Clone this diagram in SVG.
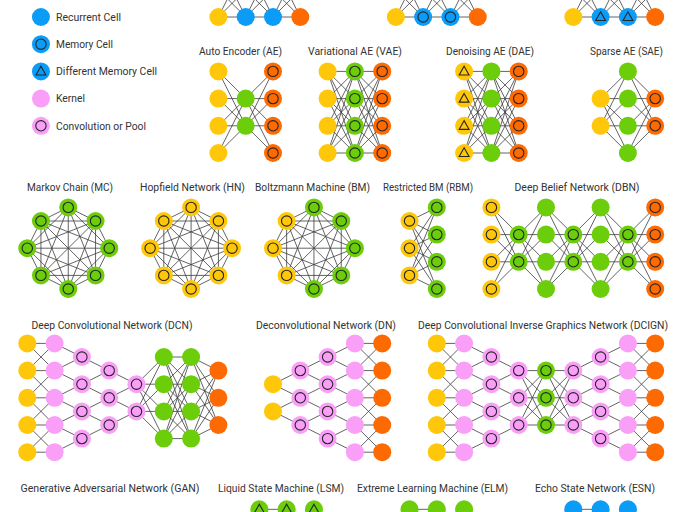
<svg xmlns="http://www.w3.org/2000/svg" xmlns:xlink="http://www.w3.org/1999/xlink" width="683" height="512" viewBox="0 0 683 512">
<style>
.e{fill:none;stroke:#3c3c3c;stroke-width:.8;vector-effect:non-scaling-stroke}
.in{fill:none;stroke:#262626;stroke-width:1.1;vector-effect:non-scaling-stroke}
.y{fill:#ffc70a}.b{fill:#0a9cf7}.g{fill:#6ccd0b}.o{fill:#fe6a02}.p{fill:#fa9ff8}
.t{font-family:Roboto,"Liberation Sans",sans-serif;font-size:10.5px;fill:#333}
.c{text-anchor:middle}
</style>
<defs>
<g id="Y"><circle class="y" r=".33"/></g>
<g id="YC"><circle class="y" r=".33"/><circle class="in" r=".19"/></g>
<g id="YT"><circle class="y" r=".33"/><path class="in" d="M0-.19L.18.13H-.18Z"/></g>
<g id="B"><circle class="b" r=".33"/></g>
<g id="BC"><circle class="b" r=".33"/><circle class="in" r=".19"/></g>
<g id="BT"><circle class="b" r=".33"/><path class="in" d="M0-.19L.18.13H-.18Z"/></g>
<g id="G"><circle class="g" r=".33"/></g>
<g id="GC"><circle class="g" r=".33"/><circle class="in" r=".19"/></g>
<g id="GT"><circle class="g" r=".33"/><path class="in" d="M0-.19L.18.13H-.18Z"/></g>
<g id="O"><circle class="o" r=".33"/></g>
<g id="OC"><circle class="o" r=".33"/><circle class="in" r=".19"/></g>
<g id="P"><circle class="p" r=".33"/></g>
<g id="PC"><circle class="p" r=".33"/><circle class="in" r=".19"/></g>
<path id="f44" class="e" d="M0 0L1 0M0 0L1 1M0 0L1 2M0 0L1 3M0 1L1 0M0 1L1 1M0 1L1 2M0 1L1 3M0 2L1 0M0 2L1 1M0 2L1 2M0 2L1 3M0 3L1 0M0 3L1 1M0 3L1 2M0 3L1 3"/>
<path id="f42" class="e" d="M0 0L1 1M0 0L1 2M0 1L1 1M0 1L1 2M0 2L1 1M0 2L1 2M0 3L1 1M0 3L1 2"/>
<path id="f24" class="e" d="M0 1L1 0M0 1L1 1M0 1L1 2M0 1L1 3M0 2L1 0M0 2L1 1M0 2L1 2M0 2L1 3"/>
<path id="f33" class="e" d="M0 0L1 0M0 0L1 1M0 0L1 2M0 1L1 0M0 1L1 1M0 1L1 2M0 2L1 0M0 2L1 1M0 2L1 2"/>
<path id="f43" class="e" d="M0 0L1 .5M0 0L1 1.5M0 0L1 2.5M0 1L1 .5M0 1L1 1.5M0 1L1 2.5M0 2L1 .5M0 2L1 1.5M0 2L1 2.5M0 3L1 .5M0 3L1 1.5M0 3L1 2.5"/>
<path id="f34" class="e" d="M0 .5L1 0M0 .5L1 1M0 .5L1 2M0 .5L1 3M0 1.5L1 0M0 1.5L1 1M0 1.5L1 2M0 1.5L1 3M0 2.5L1 0M0 2.5L1 1M0 2.5L1 2M0 2.5L1 3"/>
<path id="x5" class="e" d="M0 0H1M0 1H1M0 2H1M0 3H1M0 4H1M0 0L1 1M0 1L1 0M0 1L1 2M0 2L1 1M0 2L1 3M0 3L1 2M0 3L1 4M0 4L1 3"/>
<path id="up" class="e" d="M0 0H1M0 0L1-1M0 0L1-2M1 0L0-1M1 0L0-2"/>
<path id="k8" class="e" d="M0-1.5L1-1M0-1.5L1.5 0M0-1.5L1 1M0-1.5L0 1.5M0-1.5L-1 1M0-1.5L-1.5 0M0-1.5L-1-1M1-1L1.5 0M1-1L1 1M1-1L0 1.5M1-1L-1 1M1-1L-1.5 0M1-1L-1-1M1.5 0L1 1M1.5 0L0 1.5M1.5 0L-1 1M1.5 0L-1.5 0M1.5 0L-1-1M1 1L0 1.5M1 1L-1 1M1 1L-1.5 0M1 1L-1-1M0 1.5L-1 1M0 1.5L-1.5 0M0 1.5L-1-1M-1 1L-1.5 0M-1 1L-1-1M-1.5 0L-1-1"/>
</defs>

<g id="connectors" transform="translate(0,17) scale(27.3,27.2)">
<use href="#up" x="8" y="0"/><use href="#up" x="9" y="0"/><use href="#up" x="10" y="0"/>
<use href="#up" x="14.5" y="0"/><use href="#up" x="15.5" y="0"/><use href="#up" x="16.5" y="0"/>
<use href="#up" x="21" y="0"/><use href="#up" x="22" y="0"/><use href="#up" x="23" y="0"/>
<use href="#f42" x="8" y="2"/><use href="#f24" x="9" y="2"/>
<use href="#f44" x="12" y="2"/><use href="#f44" x="13" y="2"/>
<use href="#f44" x="17" y="2"/><use href="#f44" x="18" y="2"/>
<use href="#f24" x="22" y="2"/><use href="#f42" x="23" y="2"/>
<use href="#k8" x="2.5" y="8.5"/><use href="#k8" x="7" y="8.5"/><use href="#k8" x="11.5" y="8.5"/>
<use href="#f34" x="15" y="7"/>
<use href="#f42" x="18" y="7"/><use href="#f24" x="19" y="7"/><use href="#f42" x="20" y="7"/><use href="#f24" x="21" y="7"/><use href="#f42" x="22" y="7"/><use href="#f24" x="23" y="7"/>
<use href="#x5" x="1" y="12"/>
<path class="e" d="M2 12L3 12.5L2 13L3 13.5L2 14L3 14.5L2 15L3 15.5L2 16M3 12.5L4 13L3 13.5L4 14L3 14.5L4 15L3 15.5M4 13L5 13.5L4 14L5 14.5L4 15"/>
<use href="#f24" x="5" y="12.5"/><use href="#f44" x="6" y="12.5"/><use href="#f43" x="7" y="12.5"/>
<path class="e" d="M11 13L10 13.5L11 14L10 14.5L11 15M12 12.5L11 13L12 13.5L11 14L12 14.5L11 15L12 15.5M13 12L12 12.5L13 13L12 13.5L13 14L12 14.5L13 15L12 15.5L13 16"/>
<use href="#x5" x="13" y="12"/>
<use href="#x5" x="16" y="12"/>
<path class="e" d="M17 12L18 12.5L17 13L18 13.5L17 14L18 14.5L17 15L18 15.5L17 16M18 12.5L19 13L18 13.5L19 14L18 14.5L19 15L18 15.5"/>
<use href="#f33" x="19" y="13"/><use href="#f33" x="20" y="13"/>
<path class="e" d="M22 12.5L21 13L22 13.5L21 14L22 14.5L21 15L22 15.5M23 12L22 12.5L23 13L22 13.5L23 14L22 14.5L23 15L22 15.5L23 16"/>
<use href="#x5" x="23" y="12"/>
<path class="e" d="M9.5 18.1H10.5M15 18.1H16M21 18.1H22"/>
</g>

<g transform="translate(0,17) scale(27.3,27.2)">
<g id="legend">
<use href="#B" x="1.5" y="0"/><use href="#BC" x="1.5" y="1"/><use href="#BT" x="1.5" y="2"/><use href="#P" x="1.5" y="3"/><use href="#PC" x="1.5" y="4"/>
</g>
<g id="rnn">
<use href="#Y" x="8" y="0"/><use href="#B" x="9" y="0"/><use href="#B" x="10" y="0"/><use href="#O" x="11" y="0"/>
</g>
<g id="lstm">
<use href="#Y" x="14.5" y="0"/><use href="#BC" x="15.5" y="0"/><use href="#BC" x="16.5" y="0"/><use href="#O" x="17.5" y="0"/>
</g>
<g id="gru">
<use href="#Y" x="21" y="0"/><use href="#BT" x="22" y="0"/><use href="#BT" x="23" y="0"/><use href="#O" x="24" y="0"/>
</g>
<g id="ae">
<use href="#Y" x="8" y="2"/><use href="#Y" x="8" y="3"/><use href="#Y" x="8" y="4"/><use href="#Y" x="8" y="5"/>
<use href="#G" x="9" y="3"/><use href="#G" x="9" y="4"/>
<use href="#OC" x="10" y="2"/><use href="#OC" x="10" y="3"/><use href="#OC" x="10" y="4"/><use href="#OC" x="10" y="5"/>
</g>
<g id="vae">
<use href="#Y" x="12" y="2"/><use href="#Y" x="12" y="3"/><use href="#Y" x="12" y="4"/><use href="#Y" x="12" y="5"/>
<use href="#GC" x="13" y="2"/><use href="#GC" x="13" y="3"/><use href="#GC" x="13" y="4"/><use href="#GC" x="13" y="5"/>
<use href="#OC" x="14" y="2"/><use href="#OC" x="14" y="3"/><use href="#OC" x="14" y="4"/><use href="#OC" x="14" y="5"/>
</g>
<g id="dae">
<use href="#YT" x="17" y="2"/><use href="#YT" x="17" y="3"/><use href="#YT" x="17" y="4"/><use href="#YT" x="17" y="5"/>
<use href="#G" x="18" y="2"/><use href="#G" x="18" y="3"/><use href="#G" x="18" y="4"/><use href="#G" x="18" y="5"/>
<use href="#OC" x="19" y="2"/><use href="#OC" x="19" y="3"/><use href="#OC" x="19" y="4"/><use href="#OC" x="19" y="5"/>
</g>
<g id="sae">
<use href="#Y" x="22" y="3"/><use href="#Y" x="22" y="4"/>
<use href="#G" x="23" y="2"/><use href="#G" x="23" y="3"/><use href="#G" x="23" y="4"/><use href="#G" x="23" y="5"/>
<use href="#OC" x="24" y="3"/><use href="#OC" x="24" y="4"/>
</g>
<g id="mc">
<use href="#GC" x="2.5" y="7"/><use href="#GC" x="3.5" y="7.5"/><use href="#GC" x="4" y="8.5"/><use href="#GC" x="3.5" y="9.5"/><use href="#GC" x="2.5" y="10"/><use href="#GC" x="1.5" y="9.5"/><use href="#GC" x="1" y="8.5"/><use href="#GC" x="1.5" y="7.5"/>
</g>
<g id="hn">
<use href="#YC" x="7" y="7"/><use href="#YC" x="8" y="7.5"/><use href="#YC" x="8.5" y="8.5"/><use href="#YC" x="8" y="9.5"/><use href="#YC" x="7" y="10"/><use href="#YC" x="6" y="9.5"/><use href="#YC" x="5.5" y="8.5"/><use href="#YC" x="6" y="7.5"/>
</g>
<g id="bm">
<use href="#GC" x="11.5" y="7"/><use href="#GC" x="12.5" y="7.5"/><use href="#GC" x="13" y="8.5"/><use href="#GC" x="12.5" y="9.5"/><use href="#GC" x="11.5" y="10"/><use href="#YC" x="10.5" y="9.5"/><use href="#YC" x="10" y="8.5"/><use href="#YC" x="10.5" y="7.5"/>
</g>
<g id="rbm">
<use href="#YC" x="15" y="7.5"/><use href="#YC" x="15" y="8.5"/><use href="#YC" x="15" y="9.5"/>
<use href="#GC" x="16" y="7"/><use href="#GC" x="16" y="8"/><use href="#GC" x="16" y="9"/><use href="#GC" x="16" y="10"/>
</g>
<g id="dbn">
<use href="#YC" x="18" y="7"/><use href="#YC" x="18" y="8"/><use href="#YC" x="18" y="9"/><use href="#YC" x="18" y="10"/>
<use href="#GC" x="19" y="8"/><use href="#GC" x="19" y="9"/>
<use href="#G" x="20" y="7"/><use href="#G" x="20" y="8"/><use href="#G" x="20" y="9"/><use href="#G" x="20" y="10"/>
<use href="#GC" x="21" y="8"/><use href="#GC" x="21" y="9"/>
<use href="#G" x="22" y="7"/><use href="#G" x="22" y="8"/><use href="#G" x="22" y="9"/><use href="#G" x="22" y="10"/>
<use href="#GC" x="23" y="8"/><use href="#GC" x="23" y="9"/>
<use href="#OC" x="24" y="7"/><use href="#OC" x="24" y="8"/><use href="#OC" x="24" y="9"/><use href="#OC" x="24" y="10"/>
</g>
<g id="dcn">
<use href="#Y" x="1" y="12"/><use href="#Y" x="1" y="13"/><use href="#Y" x="1" y="14"/><use href="#Y" x="1" y="15"/><use href="#Y" x="1" y="16"/>
<use href="#P" x="2" y="12"/><use href="#P" x="2" y="13"/><use href="#P" x="2" y="14"/><use href="#P" x="2" y="15"/><use href="#P" x="2" y="16"/>
<use href="#PC" x="3" y="12.5"/><use href="#PC" x="3" y="13.5"/><use href="#PC" x="3" y="14.5"/><use href="#PC" x="3" y="15.5"/>
<use href="#PC" x="4" y="13"/><use href="#PC" x="4" y="14"/><use href="#PC" x="4" y="15"/>
<use href="#PC" x="5" y="13.5"/><use href="#PC" x="5" y="14.5"/>
<use href="#G" x="6" y="12.5"/><use href="#G" x="6" y="13.5"/><use href="#G" x="6" y="14.5"/><use href="#G" x="6" y="15.5"/>
<use href="#G" x="7" y="12.5"/><use href="#G" x="7" y="13.5"/><use href="#G" x="7" y="14.5"/><use href="#G" x="7" y="15.5"/>
<use href="#O" x="8" y="13"/><use href="#O" x="8" y="14"/><use href="#O" x="8" y="15"/>
</g>
<g id="dn">
<use href="#Y" x="10" y="13.5"/><use href="#Y" x="10" y="14.5"/>
<use href="#PC" x="11" y="13"/><use href="#PC" x="11" y="14"/><use href="#PC" x="11" y="15"/>
<use href="#PC" x="12" y="12.5"/><use href="#PC" x="12" y="13.5"/><use href="#PC" x="12" y="14.5"/><use href="#PC" x="12" y="15.5"/>
<use href="#P" x="13" y="12"/><use href="#P" x="13" y="13"/><use href="#P" x="13" y="14"/><use href="#P" x="13" y="15"/><use href="#P" x="13" y="16"/>
<use href="#O" x="14" y="12"/><use href="#O" x="14" y="13"/><use href="#O" x="14" y="14"/><use href="#O" x="14" y="15"/><use href="#O" x="14" y="16"/>
</g>
<g id="dcign">
<use href="#Y" x="16" y="12"/><use href="#Y" x="16" y="13"/><use href="#Y" x="16" y="14"/><use href="#Y" x="16" y="15"/><use href="#Y" x="16" y="16"/>
<use href="#P" x="17" y="12"/><use href="#P" x="17" y="13"/><use href="#P" x="17" y="14"/><use href="#P" x="17" y="15"/><use href="#P" x="17" y="16"/>
<use href="#PC" x="18" y="12.5"/><use href="#PC" x="18" y="13.5"/><use href="#PC" x="18" y="14.5"/><use href="#PC" x="18" y="15.5"/>
<use href="#PC" x="19" y="13"/><use href="#PC" x="19" y="14"/><use href="#PC" x="19" y="15"/>
<use href="#GC" x="20" y="13"/><use href="#GC" x="20" y="14"/><use href="#GC" x="20" y="15"/>
<use href="#PC" x="21" y="13"/><use href="#PC" x="21" y="14"/><use href="#PC" x="21" y="15"/>
<use href="#PC" x="22" y="12.5"/><use href="#PC" x="22" y="13.5"/><use href="#PC" x="22" y="14.5"/><use href="#PC" x="22" y="15.5"/>
<use href="#P" x="23" y="12"/><use href="#P" x="23" y="13"/><use href="#P" x="23" y="14"/><use href="#P" x="23" y="15"/><use href="#P" x="23" y="16"/>
<use href="#O" x="24" y="12"/><use href="#O" x="24" y="13"/><use href="#O" x="24" y="14"/><use href="#O" x="24" y="15"/><use href="#O" x="24" y="16"/>
</g>
<g id="lsm"><use href="#GT" x="9.5" y="18.1"/><use href="#GT" x="10.5" y="18.1"/><use href="#GT" x="11.5" y="18.1"/></g>
<g id="elm"><use href="#G" x="15" y="18.1"/><use href="#G" x="16" y="18.1"/><use href="#G" x="17" y="18.1"/></g>
<g id="esn"><use href="#B" x="21" y="18.1"/><use href="#B" x="22" y="18.1"/><use href="#B" x="23" y="18.1"/></g>
</g>

<g id="labels" class="t">
<text x="56" y="20.7" textLength="65" lengthAdjust="spacingAndGlyphs">Recurrent Cell</text>
<text x="56" y="47.9" textLength="57" lengthAdjust="spacingAndGlyphs">Memory Cell</text>
<text x="56" y="75.1" textLength="101" lengthAdjust="spacingAndGlyphs">Different Memory Cell</text>
<text x="56" y="102.3" textLength="29" lengthAdjust="spacingAndGlyphs">Kernel</text>
<text x="56" y="129.5" textLength="90" lengthAdjust="spacingAndGlyphs">Convolution or Pool</text>
<text class="c" x="240.5" y="55" textLength="83" lengthAdjust="spacingAndGlyphs">Auto Encoder (AE)</text>
<text class="c" x="355" y="55" textLength="94" lengthAdjust="spacingAndGlyphs">Variational AE (VAE)</text>
<text class="c" x="490" y="55" textLength="88" lengthAdjust="spacingAndGlyphs">Denoising AE (DAE)</text>
<text class="c" x="626.5" y="55" textLength="73" lengthAdjust="spacingAndGlyphs">Sparse AE (SAE)</text>
<text class="c" x="70" y="191" textLength="86" lengthAdjust="spacingAndGlyphs">Markov Chain (MC)</text>
<text class="c" x="192.5" y="191" textLength="105" lengthAdjust="spacingAndGlyphs">Hopfield Network (HN)</text>
<text class="c" x="312.5" y="191" textLength="115" lengthAdjust="spacingAndGlyphs">Boltzmann Machine (BM)</text>
<text class="c" x="428" y="191" textLength="90" lengthAdjust="spacingAndGlyphs">Restricted BM (RBM)</text>
<text class="c" x="577" y="191" textLength="125" lengthAdjust="spacingAndGlyphs">Deep Belief Network (DBN)</text>
<text class="c" x="112" y="329" textLength="161" lengthAdjust="spacingAndGlyphs">Deep Convolutional Network (DCN)</text>
<text class="c" x="326" y="329" textLength="140" lengthAdjust="spacingAndGlyphs">Deconvolutional Network (DN)</text>
<text class="c" x="543" y="329" textLength="250" lengthAdjust="spacingAndGlyphs">Deep Convolutional Inverse Graphics Network (DCIGN)</text>
<text class="c" x="110" y="492" textLength="179" lengthAdjust="spacingAndGlyphs">Generative Adversarial Network (GAN)</text>
<text class="c" x="281" y="492" textLength="126" lengthAdjust="spacingAndGlyphs">Liquid State Machine (LSM)</text>
<text class="c" x="432.5" y="492" textLength="151" lengthAdjust="spacingAndGlyphs">Extreme Learning Machine (ELM)</text>
<text class="c" x="595" y="492" textLength="120" lengthAdjust="spacingAndGlyphs">Echo State Network (ESN)</text>
</g>
</svg>
